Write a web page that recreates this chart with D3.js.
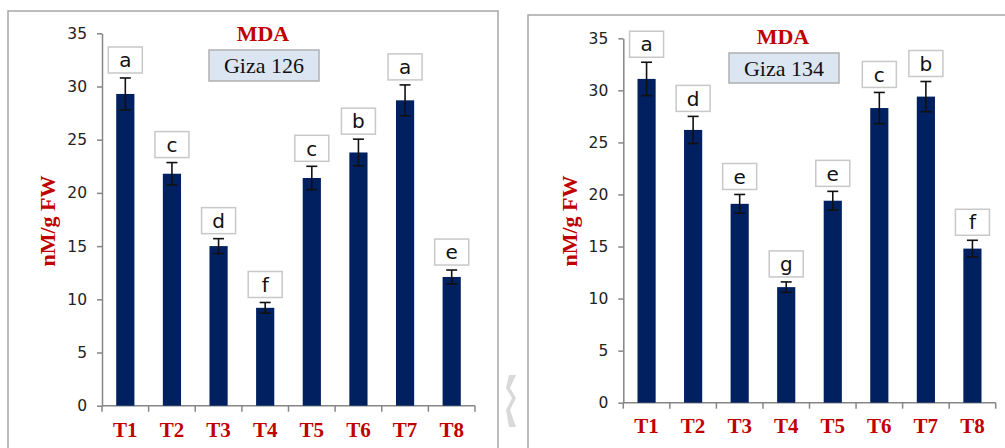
<!DOCTYPE html>
<html>
<head>
<meta charset="utf-8">
<script src="https://cdn.jsdelivr.net/npm/d3@7"></script>
<style>
  body { margin: 0; background: #fff; }
  svg { display: block; }
</style>
</head>
<body>
<svg width="1005" height="448"></svg>
<script>
// treatments and y ticks shared by both panels
const treatments = ["T1", "T2", "T3", "T4", "T5", "T6", "T7", "T8"];
const yTicks = [0, 5, 10, 15, 20, 25, 30, 35];

// Giza 126
const giza126Values = [29.3, 21.8, 15.0, 9.2, 21.4, 23.8, 28.7, 12.1];
const giza126Errors = [1.5, 1.05, 0.7, 0.5, 1.1, 1.25, 1.45, 0.65];
const giza126Letters = ["a", "c", "d", "f", "c", "b", "a", "e"];

// Giza 134
const giza134Values = [31.1, 26.2, 19.1, 11.1, 19.4, 28.3, 29.4, 14.8];
const giza134Errors = [1.6, 1.3, 0.9, 0.5, 0.9, 1.5, 1.45, 0.8];
const giza134Letters = ["a", "d", "e", "g", "e", "c", "b", "f"];

const svg = d3.select("svg");
const serif = "'Liberation Serif', 'Times New Roman', serif";
const sans = "'DejaVu Sans', sans-serif";
const red = "#c00000";

function drawPanel(p) {
    const g = svg.append("g");

    // frame
    g.append("rect")
        .attr("x", p.frame[0]).attr("y", p.frame[1])
        .attr("width", p.frame[2]).attr("height", p.frame[3])
        .attr("fill", "none").attr("stroke", "#a6a6a6").attr("stroke-width", 1.5);

    const x = d3.scaleBand()
        .domain(treatments)
        .range([p.x0, p.x1])
        .paddingInner(0.61)
        .paddingOuter(0.305);
    const y = d3.scaleLinear().domain([0, 35]).range([p.yBottom, p.yTop]);

    // y axis
    const yAxis = g.append("g")
        .attr("transform", `translate(${p.x0},0)`)
        .call(d3.axisLeft(y).tickValues(yTicks).tickSize(5).tickPadding(10).tickSizeOuter(0));
    yAxis.select(".domain").attr("stroke", "#868686").attr("stroke-width", 1.5);
    yAxis.selectAll(".tick line").attr("stroke", "#868686").attr("stroke-width", 1.5);
    yAxis.selectAll(".tick text")
        .attr("fill", "#222")
        .style("font-family", sans)
        .style("font-size", "15.5px");

    // x axis with ticks between categories
    g.append("line")
        .attr("x1", p.x0).attr("x2", p.x1)
        .attr("y1", p.yBottom).attr("y2", p.yBottom)
        .attr("stroke", "#868686").attr("stroke-width", 1.5);
    const step = x.step();
    g.selectAll(".xtick")
        .data(d3.range(treatments.length + 1))
        .enter().append("line")
        .attr("x1", i => p.x0 + i * step).attr("x2", i => p.x0 + i * step)
        .attr("y1", p.yBottom).attr("y2", p.yBottom + 6)
        .attr("stroke", "#868686").attr("stroke-width", 1.5);
    g.selectAll(".xlabel")
        .data(treatments)
        .enter().append("text")
        .attr("x", d => x(d) + x.bandwidth() / 2)
        .attr("y", p.xLabelY)
        .attr("text-anchor", "middle")
        .attr("fill", red)
        .style("font-family", serif)
        .style("font-weight", "bold")
        .style("font-size", "21px")
        .text(d => d);

    const rows = treatments.map((t, i) => ({
        t: t, v: p.values[i], e: p.errors[i], l: p.letters[i]
    }));

    // bars
    g.selectAll(".bar")
        .data(rows)
        .enter().append("rect")
        .attr("x", d => x(d.t))
        .attr("y", d => y(d.v))
        .attr("width", x.bandwidth())
        .attr("height", d => y(0) - y(d.v))
        .attr("fill", "#002060");

    // error bars
    const err = g.selectAll(".err").data(rows).enter().append("g")
        .attr("stroke", "#111").attr("stroke-width", 1.6);
    const cx = d => x(d.t) + x.bandwidth() / 2;
    err.append("line")
        .attr("x1", cx).attr("x2", cx)
        .attr("y1", d => y(d.v + d.e)).attr("y2", d => y(d.v - d.e));
    err.append("line")
        .attr("x1", d => cx(d) - 5.5).attr("x2", d => cx(d) + 5.5)
        .attr("y1", d => y(d.v + d.e)).attr("y2", d => y(d.v + d.e));
    err.append("line")
        .attr("x1", d => cx(d) - 5.5).attr("x2", d => cx(d) + 5.5)
        .attr("y1", d => y(d.v - d.e)).attr("y2", d => y(d.v - d.e));

    // significance letters
    const bw = 34, bh = 26;
    const lab = g.selectAll(".letter").data(rows).enter().append("g")
        .attr("transform", d => `translate(${cx(d)},${y(d.v + d.e) - 5 - bh / 2})`);
    lab.append("rect")
        .attr("x", -bw / 2).attr("y", -bh / 2)
        .attr("width", bw).attr("height", bh)
        .attr("fill", "#fff").attr("stroke", "#c8c8c8").attr("stroke-width", 1.5);
    lab.append("text")
        .attr("text-anchor", "middle")
        .attr("dy", "0.36em")
        .attr("fill", "#111")
        .style("font-family", sans)
        .style("font-size", "20px")
        .text(d => d.l);

    // title
    g.append("text")
        .attr("x", p.titleX).attr("y", p.titleY)
        .attr("text-anchor", "middle")
        .attr("fill", red)
        .style("font-family", serif)
        .style("font-weight", "bold")
        .style("font-size", "22px")
        .text("MDA");

    // cultivar box
    g.append("rect")
        .attr("x", p.nameBox[0]).attr("y", p.nameBox[1])
        .attr("width", p.nameBox[2]).attr("height", p.nameBox[3])
        .attr("fill", "#dce6f2").attr("stroke", "#b0b0b0").attr("stroke-width", 1.5);
    g.append("text")
        .attr("x", p.nameBox[0] + p.nameBox[2] / 2)
        .attr("y", p.nameBox[1] + p.nameBox[3] / 2)
        .attr("dy", "0.35em")
        .attr("text-anchor", "middle")
        .attr("fill", "#111")
        .style("font-family", serif)
        .style("font-size", "22px")
        .text(p.name);

    // y label
    g.append("text")
        .attr("transform", `translate(${p.yLabelX},${p.yLabelY}) rotate(-90)`)
        .attr("text-anchor", "middle")
        .attr("dy", "0.35em")
        .attr("fill", red)
        .style("font-family", serif)
        .style("font-weight", "bold")
        .style("font-size", "22px")
        .text("nM/g FW");
}

drawPanel({
    name: "Giza 126",
    values: giza126Values, errors: giza126Errors, letters: giza126Letters,
    frame: [8, 11, 490, 450],
    x0: 102, x1: 475, yTop: 33.3, yBottom: 405.7,
    xLabelY: 437,
    titleX: 263, titleY: 41,
    nameBox: [209, 50, 110, 31],
    yLabelX: 47, yLabelY: 221
});

drawPanel({
    name: "Giza 134",
    values: giza134Values, errors: giza134Errors, letters: giza134Letters,
    frame: [528, 15, 490, 450],
    x0: 623.3, x1: 995.7, yTop: 38.3, yBottom: 402.7,
    xLabelY: 433,
    titleX: 783, titleY: 44,
    nameBox: [729, 53, 110, 30],
    yLabelX: 569, yLabelY: 221
});

// faint page-turn mark between the panels
svg.append("path")
    .attr("d", "M516,375 L510,388 L516,398 L510,410 L516,427 L509,427 L506,410 L512,398 L506,388 L509,375 Z")
    .attr("fill", "#d9d9d9");
</script>
</body>
</html>
